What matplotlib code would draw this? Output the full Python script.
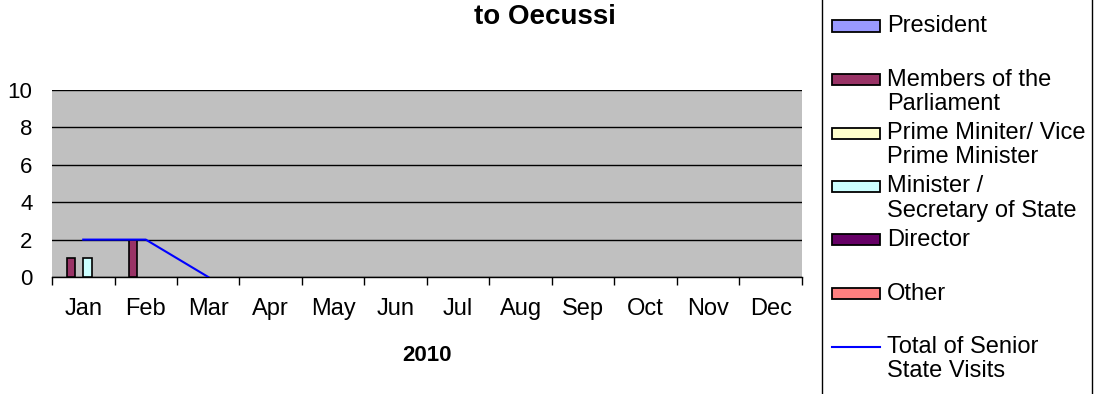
import numpy as np
import matplotlib.pyplot as plt
from matplotlib.patches import Rectangle
from matplotlib.lines import Line2D

plt.rcParams['font.family'] = ['Liberation Sans', 'DejaVu Sans']

months = ['Jan', 'Feb', 'Mar', 'Apr', 'May', 'Jun',
          'Jul', 'Aug', 'Sep', 'Oct', 'Nov', 'Dec']

president = [0, 0, 0, 0, 0, 0, 0, 0, 0, 0, 0, 0]
members = [1, 2, 0, 0, 0, 0, 0, 0, 0, 0, 0, 0]
prime_minister = [0, 0, 0, 0, 0, 0, 0, 0, 0, 0, 0, 0]
minister = [1, 0, 0, 0, 0, 0, 0, 0, 0, 0, 0, 0]
director = [0, 0, 0, 0, 0, 0, 0, 0, 0, 0, 0, 0]
other = [0, 0, 0, 0, 0, 0, 0, 0, 0, 0, 0, 0]
total = [2, 2, 0]

series = [president, members, prime_minister, minister, director, other]
labels = [['President'], ['Members of the', 'Parliament'],
          ['Prime Miniter/ Vice', 'Prime Minister'],
          ['Minister /', 'Secretary of State'], ['Director'], ['Other']]
colors = ['#9999FF', '#993366', '#FFFFCC', '#CCFFFF', '#660066', '#FF8080']

fig = plt.figure(figsize=(10.95, 3.94), dpi=100)
ax = fig.add_axes([52/1095, 1 - 277/394, 750/1095, 187/394])
ax.set_facecolor('#C0C0C0')

x = np.arange(len(months))
width = 0.8 / len(series)
for i, (vals, c) in enumerate(zip(series, colors)):
    v = np.array(vals, dtype=float)
    v[v == 0] = np.nan
    ax.bar(x + (i - 2.5) * width, v, width, color=c, edgecolor='black', linewidth=1.2, zorder=3)

ax.plot(x[:len(total)], total, color='#0000FF', linewidth=1.5, zorder=4)

ax.set_xlim(-0.5, 11.5)
ax.set_ylim(0, 10)
ax.set_yticks(np.arange(0, 11, 2))
ax.yaxis.grid(True, color='black', linewidth=1)
ax.set_axisbelow(True)
ax.tick_params(axis='y', length=0, labelsize=16, pad=14)
ax.set_xticks(x)
ax.set_xticklabels(months)
ax.set_xticks(np.arange(-0.5, 12, 1), minor=True)
ax.tick_params(axis='x', which='major', length=0, labelsize=17, pad=15)
ax.tick_params(axis='x', which='minor', length=6, width=1, color='black', direction='out')
for s in ['left', 'right', 'top']:
    ax.spines[s].set_visible(False)
ax.spines['bottom'].set_linewidth(1)
ax.set_xlabel('2010', fontsize=16, fontweight='bold', labelpad=18)

fig.text(545/1095, 1 - 17/394, 'to Oecussi', ha='center', va='center',
         fontsize=20, fontweight='bold')

# legend panel on the right, drawn in pixel space
def fy(py):
    return 1 - py / 394

fig.patches.append(Rectangle((822/1095, -0.01), 270/1095, 1.02, transform=fig.transFigure,
                             facecolor='white', edgecolor='black', linewidth=1))
ys = [26 + 53.5 * k for k in range(7)]
for yy, lab, c in zip(ys, labels, colors):
    fig.patches.append(Rectangle((832/1095, fy(yy + 5.5)), 48/1095, 11/394,
                                 transform=fig.transFigure, facecolor=c,
                                 edgecolor='black', linewidth=1.3))
    for k, line in enumerate(lab):
        fig.text(887/1095, fy(yy + 24 * k), line, ha='left', va='center', fontsize=17)
fig.lines.append(Line2D([832/1095, 880/1095], [fy(ys[6]), fy(ys[6])],
                        transform=fig.transFigure, color='#0000FF', linewidth=1.5))
for k, line in enumerate(['Total of Senior', 'State Visits']):
    fig.text(887/1095, fy(ys[6] + 24 * k), line, ha='left', va='center', fontsize=17)

plt.savefig('out.png', dpi=100)
